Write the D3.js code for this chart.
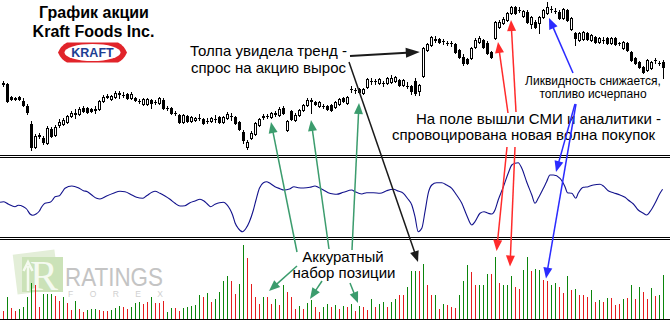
<!DOCTYPE html>
<html><head><meta charset="utf-8">
<script src="https://cdn.jsdelivr.net/npm/d3@7"></script>
<style>html,body{margin:0;padding:0;background:#fff;}svg{display:block;}</style>
</head><body>
<svg id="chart" width="670" height="320"></svg>
<script>
// Daily prices, USD
const open = [
31.6,31.6,30.3,30.2,30.3,29.9,29.4,27.6,25.3,26.4,
26.2,25.7,27.1,26.5,27.5,27.6,27.8,28.4,28.6,28.6,
29.2,29.2,29.1,29.0,29.1,29.9,30.3,30.1,30.3,30.6,
30.5,30.6,30.2,30.2,29.9,29.6,29.6,30.0,29.8,29.7,
30.0,29.2,29.2,28.7,28.5,27.8,28.4,27.9,28.0,28.2,
28.1,27.9,27.9,28.1,28.3,27.8,28.2,28.4,28.3,27.8,
26.8,25.3,26.2,26.6,27.5,28.3,28.4,28.3,28.6,28.5,
29.2,27.0,28.9,28.0,28.5,29.0,29.5,29.9,29.8,29.4,
29.4,29.4,29.5,29.3,29.6,30.2,29.7,31.1,31.0,31.1,
30.7,31.3,31.9,31.9,31.7,31.7,31.7,31.8,31.9,32.0,
31.5,31.4,31.4,31.9,30.9,32.4,35.0,35.5,36.0,36.1,
35.9,35.7,35.7,35.6,35.0,34.3,34.1,34.2,35.3,35.8,
36.0,35.7,34.8,36.2,37.3,37.7,38.0,38.7,39.3,39.0,
38.4,38.8,37.6,37.8,37.7,38.3,38.7,39.1,38.9,38.8,
38.2,39.0,37.1,36.7,36.0,36.1,36.7,36.0,36.3,35.8,
36.0,36.2,35.7,36.2,35.7,35.2,35.7,34.8,34.2,33.8,
33.3,33.0,33.2,34.0,33.7,33.8];
const high = [
31.9,31.7,30.4,30.3,30.4,30.2,29.6,27.9,26.6,26.7,
26.4,27.4,27.3,27.5,28.1,28.2,28.5,28.9,29.1,29.3,
29.4,29.3,29.2,29.4,30.0,30.5,30.6,30.5,30.9,30.9,
30.8,30.7,30.8,30.3,30.1,30.2,30.2,30.1,30.0,30.3,
30.2,29.4,29.3,28.9,28.6,28.6,28.5,28.4,28.3,28.6,
28.2,28.2,28.3,28.5,28.4,28.4,28.8,28.7,28.4,27.9,
27.0,26.0,26.9,27.8,28.2,28.6,28.6,28.8,28.9,29.3,
29.4,28.0,29.0,28.7,29.1,29.6,30.2,30.2,29.9,29.9,
29.6,29.5,29.6,29.9,30.2,30.3,30.4,31.4,31.2,31.2,
31.2,32.2,32.2,32.1,32.2,31.9,32.3,32.5,32.4,32.1,
32.1,31.8,31.5,32.2,31.6,35.3,35.7,36.4,36.4,36.2,
36.1,35.9,35.9,35.7,35.1,34.6,34.2,35.3,36.2,36.4,
36.1,35.9,34.9,37.9,38.0,38.3,38.8,39.4,39.4,39.3,
39.0,39.0,38.4,38.0,38.4,39.1,39.8,39.4,39.2,39.0,
39.2,39.1,38.3,36.8,36.8,36.9,36.8,36.6,36.4,36.3,
36.3,36.3,36.3,36.3,35.8,35.9,35.8,34.9,34.3,33.9,
33.4,34.1,33.9,34.2,33.9,34.0];
const low = [
31.4,29.8,30.0,30.0,30.0,29.4,28.6,25.0,25.2,26.2,
25.6,25.6,26.3,26.4,27.3,27.5,27.7,28.3,28.2,28.5,
28.8,28.7,28.8,28.7,29.0,29.8,30.2,30.0,30.2,30.2,
30.3,30.1,30.1,29.9,29.7,29.5,29.5,29.2,29.6,29.6,
29.1,29.0,28.6,28.5,27.7,27.7,27.8,27.8,27.9,28.0,
27.6,27.7,27.8,27.8,27.7,27.7,28.1,28.0,27.6,27.0,
25.7,25.1,26.1,26.5,27.4,28.1,28.2,28.2,28.4,28.4,
28.6,26.9,28.0,27.9,28.4,28.9,29.4,28.7,29.5,29.3,
29.2,29.0,28.9,29.2,29.5,29.8,29.6,30.8,30.7,30.7,
30.6,31.2,31.6,31.6,31.6,31.4,31.6,31.7,31.8,31.4,
31.4,31.2,30.6,30.5,30.5,32.3,34.9,35.4,35.8,35.7,
35.6,35.5,35.4,34.7,34.2,33.5,33.6,34.1,35.2,35.7,
35.2,34.6,34.2,36.1,37.2,37.6,37.9,38.6,38.6,38.8,
38.3,37.7,37.2,37.2,36.7,38.2,38.6,38.8,38.7,38.1,
38.1,37.9,37.0,35.5,35.9,36.0,36.0,35.9,35.7,35.7,
35.7,35.6,35.6,35.5,35.5,35.1,34.9,33.9,33.6,33.2,
32.7,32.9,33.1,33.7,33.5,32.2];
const close = [
31.7,29.9,30.1,30.15,30.1,29.5,28.8,25.3,26.4,26.5,
25.8,27.2,26.4,27.3,27.8,28.0,28.4,28.7,28.7,29.1,
28.9,28.8,28.9,29.1,29.9,30.3,30.4,30.4,30.7,30.7,
30.5,30.2,30.6,30.0,29.9,30.1,30.1,29.7,29.8,30.2,
29.2,29.2,28.7,28.7,27.8,28.5,27.9,28.3,28.2,28.2,
27.7,27.9,28.2,28.1,27.8,28.3,28.6,28.4,27.7,27.1,
26.0,25.8,26.7,27.7,28.1,28.4,28.4,28.7,28.7,29.1,
28.7,27.9,28.1,28.5,29.0,29.5,30.0,30.0,29.6,29.8,
29.4,29.1,29.0,29.8,30.1,29.9,30.3,31.1,31.0,30.8,
31.1,32.1,31.9,31.9,32.1,31.7,32.2,32.2,32.3,31.5,
32.0,31.4,30.9,30.7,31.5,35.2,35.6,36.3,36.1,35.8,
35.9,35.7,35.7,34.8,34.3,33.7,33.7,35.2,36.0,36.2,
35.3,34.7,34.3,37.8,37.8,38.1,38.7,39.3,38.7,39.0,
38.9,37.8,38.3,37.3,38.3,39.0,39.3,39.1,38.9,38.2,
39.1,38.0,38.2,36.2,36.7,36.8,36.1,36.5,35.8,36.2,
36.0,35.7,36.2,35.6,35.7,35.8,35.0,34.0,33.7,33.3,
32.8,34.0,33.8,34.0,33.7,33.3];

// Daily volume, millions of shares; volumeUp: 1 = rising volume bar
const volume = [
1.6,4.4,2.2,1.6,2.0,2.4,4.4,7.2,6.8,2.4,
5.0,5.0,5.0,4.6,3.6,4.4,3.2,1.8,3.6,2.0,
1.4,1.8,2.0,2.0,1.8,1.6,1.6,1.8,2.2,2.6,
2.4,2.0,2.4,3.2,3.4,3.0,3.4,4.4,3.2,3.2,
3.6,1.4,2.2,2.2,1.6,2.2,2.4,2.6,2.8,4.8,
4.4,5.2,3.4,4.0,5.4,7.6,8.6,7.6,5.0,7.0,
14.8,12.2,7.0,4.4,3.0,4.4,4.4,3.0,4.0,2.8,
6.8,5.4,4.4,2.0,2.6,2.0,3.2,3.8,2.4,1.4,
2.4,3.0,2.4,2.8,2.0,2.7,2.5,3.1,1.6,2.7,
2.5,1.8,4.0,2.5,3.1,3.5,2.5,3.5,4.0,4.8,
4.8,6.5,9.6,9.6,9.6,11.1,6.9,4.8,4.9,2.0,
3.1,2.9,2.5,2.3,4.9,7.6,10.9,9.5,6.8,6.9,
6.9,9.1,9.1,12.5,7.3,6.8,6.9,8.7,6.5,6.1,
9.8,12.5,9.6,10.1,9.8,7.8,7.6,6.8,7.3,6.5,
5.3,8.7,5.8,6.1,4.8,4.8,4.5,5.8,3.5,3.8,
3.5,4.3,4.3,2.8,3.1,4.1,4.3,6.8,4.0,6.5,
5.5,4.0,6.3,4.7,4.9,8.8];
const volumeUp = [
0,1,0,0,1,1,1,1,0,0,
1,1,1,0,0,1,0,0,1,0,
0,1,1,1,0,0,0,1,1,1,
0,0,1,1,1,0,0,1,0,0,
0,1,1,0,0,1,1,1,1,1,
0,1,0,1,1,1,1,0,0,1,
1,0,0,0,0,1,0,0,1,0,
1,0,0,0,1,0,1,1,0,0,
1,1,0,1,0,1,0,1,0,1,
0,0,1,0,1,1,0,1,1,0,
0,1,1,1,0,1,0,0,1,0,
1,0,0,0,1,1,1,0,0,1,
1,1,0,1,0,1,1,1,0,0,
1,1,0,1,1,0,0,1,1,0,
0,1,0,1,0,0,0,1,0,1,
0,1,0,0,0,1,0,1,0,1,
0,0,1,0,1,1];

// Oscillator: bar position and value (0..80)
const oscIndex = [
-0.75,0.1,1.3,3,3.8,5.1,5.9,6.75,7.4,8.25,
9.1,9.7,10.5,11.75,12.4,13,14.1,14.7,15.5,17.2,
18.8,20.1,21.1,22.2,23.4,24.25,25.9,27.6,29.25,30.5,
32.2,33.4,34.9,35.9,38,39.25,40.5,41.75,43,44.25,
45.5,46.75,48,49.25,50.25,51.1,51.9,53,54.1,55.1,
55.9,56.75,57.4,58,58.8,59.9,60.75,61.6,62.6,63.25,
64.1,65.1,65.9,66.75,68,69.25,70.25,71.6,72.75,73.8,
75.1,76.75,78,78.8,80.1,81.3,82.6,83.4,85.1,87.2,
88,89.7,90.9,92.6,94.25,95.9,97.6,98.8,100.1,101.1,
102.2,103,103.8,104.7,105.5,106.3,107.2,108.4,109.7,110.9,
112.2,113.4,114.7,115.9,117.2,118,119.25,120.25,121.3,122.2,
123,123.8,125.1,126.3,127.2,128,128.8,129.7,130.9,132.2,
133,133.8,135.1,135.9,136.75,137.6,139.25,140.5,141.1,142.2,
143.2,143.8,145.1,146.3,147.6,149.25,150.1,151.3,152.6,154.25,
155.5,156.3,157.6,158.8,160.1,160.9,161.75,163,164.25,164.9];
const oscValue = [
35.7,36.3,34,31.3,32.7,31.3,29,24,22.7,24,
27,31.3,34.7,35.7,38,41.3,42.3,45.3,49.7,52,
50.3,47.3,46.3,43,39.7,39,42,44.7,46.7,46.3,
43,40.7,39.7,42.3,46.7,44.7,42,38.7,34.7,32,
32.3,35.3,37,38.7,37,34,31.3,33.7,35.3,35.7,
33.7,28.7,23,15.3,9.7,6.3,9.7,16.3,28,38,
49.7,55.3,56.3,54.7,51.3,49.3,48,49,51.3,50.3,
50,50.7,52,50.7,48,45.3,44,43.7,45.7,48,
46.3,44,45.3,45.3,44.7,47.3,48.7,47,44.7,39.7,
33,21.3,6.3,9.7,26.3,44.7,53,55.3,55.3,53,
49.7,43,34.7,23,13,16.3,24.7,26.3,24.7,24,
28,38,51.3,64.7,73,74.7,75.3,69.7,56.3,43,
34.7,39.7,49.7,56.3,63,63,59.7,51.3,45.3,44.7,
39.7,44.7,50.7,51.3,53,53.7,52,47.3,45.3,43,
40.7,38,34,28,24.7,23,26.3,34.7,44.7,48.7];

const W = 670, H = 320;
const FONT = "'Liberation Sans', Arial, sans-serif";
const svg = d3.select('#chart');
svg.append('rect').attr('width', W).attr('height', H).attr('fill', '#fff');

const x = d3.scaleLinear().domain([0, open.length - 1]).range([3, 663]);
const yPrice = d3.scaleLinear().domain([24.5, 40]).range([155, 0]);
const yOsc = d3.scaleLinear().domain([0, 80]).range([238, 158]);
const yVol = d3.scaleLinear().domain([0, 16]).range([319, 239]);

const px = i => Math.round(x(i));
const py = v => Math.round(yPrice(v));
const bars = d3.range(open.length).map(i => ({i, o: open[i], h: high[i], l: low[i], c: close[i], v: volume[i], up: volumeUp[i]}));

// ---- watermark (drawn under the volume bars)
const wm = svg.append('g');
wm.append('rect').attr('x', 15).attr('y', 252).attr('width', 42).attr('height', 40)
  .attr('fill', '#e3eed8').attr('transform', 'rotate(-7 36 272)');
wm.append('rect').attr('x', 22).attr('y', 257).attr('width', 41).attr('height', 35).attr('fill', '#cbe2b8');
wm.append('text').attr('x', 44).attr('y', 290).attr('text-anchor', 'middle')
  .attr('font-family', "'Liberation Serif', serif").attr('font-size', 42).attr('fill', '#f5faf0').text('R');
wm.append('path').attr('d', 'M28,291 L28,266 M23.5,271 L28,262 L32.5,271').attr('stroke', '#f5faf0')
  .attr('stroke-width', 2.5).attr('fill', 'none');
wm.append('text').attr('x', 65).attr('y', 285.5).attr('font-family', FONT).attr('font-size', 25)
  .attr('textLength', 98).attr('lengthAdjust', 'spacingAndGlyphs').attr('fill', '#c4c4c4').text('RATINGS');
wm.append('text').attr('x', 68).attr('y', 297).attr('font-family', FONT).attr('font-size', 8.5)
  .attr('textLength', 95).attr('lengthAdjust', 'spacing').attr('fill', '#d0d0d0').text('FOREX');

// ---- candlesticks
const cg = svg.append('g').attr('shape-rendering', 'crispEdges');
cg.selectAll('line').data(bars).join('line')
  .attr('x1', d => px(d.i) + 0.5).attr('x2', d => px(d.i) + 0.5)
  .attr('y1', d => py(d.h)).attr('y2', d => py(d.l) + 1)
  .attr('stroke', '#000');
cg.selectAll('rect.bear').data(bars.filter(d => d.c <= d.o)).join('rect').attr('class', 'bear')
  .attr('x', d => px(d.i) - 1).attr('width', 3)
  .attr('y', d => py(d.o)).attr('height', d => Math.max(1, py(d.c) - py(d.o) + 1))
  .attr('fill', '#000');
cg.selectAll('rect.bull').data(bars.filter(d => d.c > d.o)).join('rect').attr('class', 'bull')
  .attr('x', d => px(d.i) - 0.5).attr('width', 2)
  .attr('y', d => py(d.c) + 0.5).attr('height', d => Math.max(1, py(d.o) - py(d.c)))
  .attr('fill', '#fff').attr('stroke', '#000');

// ---- volume
const vg = svg.append('g').attr('shape-rendering', 'crispEdges');
vg.selectAll('rect').data(bars).join('rect')
  .attr('x', d => px(d.i)).attr('width', 1)
  .attr('y', d => Math.round(yVol(d.v))).attr('height', d => yVol(0) - Math.round(yVol(d.v)))
  .attr('fill', d => d.up ? '#0b850b' : '#e41c1c');
vg.append('line').attr('x1', 0).attr('x2', W).attr('y1', 319.5).attr('y2', 319.5).attr('stroke', '#000');

// ---- oscillator
const oscPts = oscIndex.map((k, j) => [x(k), yOsc(oscValue[j])]);
svg.append('path').attr('d', d3.line().curve(d3.curveMonotoneX)(oscPts))
  .attr('fill', 'none').attr('stroke', '#12128c').attr('stroke-width', 1.1);

// ---- panel separators
const sg = svg.append('g').attr('shape-rendering', 'crispEdges');
[155.5, 157.5, 237.5, 239.5].forEach(yy =>
  sg.append('line').attr('x1', 0).attr('x2', W).attr('y1', yy).attr('y2', yy).attr('stroke', '#000'));

// ---- title and logo
const tg = svg.append('g').attr('font-family', FONT);
tg.append('text').attr('x', 94).attr('y', 18).attr('text-anchor', 'middle').attr('font-size', 16)
  .attr('font-weight', 'bold').text('График акции');
tg.append('text').attr('x', 93.5).attr('y', 37).attr('text-anchor', 'middle').attr('font-size', 16)
  .attr('font-weight', 'bold').text('Kraft Foods Inc.');
const logo = svg.append('g');
logo.append('path').attr('d', 'M58,52.5 Q61,45.5 67,42.5 L118,42.5 Q124,45.5 127,52.5 Q124,59.5 118,62.5 L67,62.5 Q61,59.5 58,52.5 Z')
  .attr('fill', '#e1242a');
logo.append('ellipse').attr('cx', 92.5).attr('cy', 52.5).attr('rx', 28).attr('ry', 8.6).attr('fill', '#fff');
logo.append('text').attr('x', 92.5).attr('y', 57).attr('text-anchor', 'middle').attr('font-family', FONT)
  .attr('font-size', 12.5).attr('font-weight', 'bold').attr('fill', '#1d3d92').text('KRAFT');

// ---- annotation texts
const notes = [
  {t: 'Толпа увидела тренд -', x: 268.5, y: 56, a: 'middle', s: 15},
  {t: 'спрос на акцию вырос', x: 268.5, y: 73, a: 'middle', s: 15},
  {t: 'На поле вышли СМИ и аналитики -', x: 416, y: 124, a: 'start', s: 15},
  {t: 'спровоцирована новая волна покупок', x: 392, y: 140, a: 'start', s: 15},
  {t: 'Ликвидность снижается,', x: 593, y: 85, a: 'middle', s: 12},
  {t: 'топливо исчерпано', x: 593, y: 98, a: 'middle', s: 12},
  {t: 'Аккуратный', x: 343, y: 262, a: 'middle', s: 15},
  {t: 'набор позиции', x: 344, y: 278, a: 'middle', s: 15}
];
tg.selectAll('text.note').data(notes).join('text').attr('class', 'note')
  .attr('x', d => d.x).attr('y', d => d.y).attr('text-anchor', d => d.a)
  .attr('font-size', d => d.s).attr('fill', '#000').text(d => d.t);

// ---- arrows: start point near a caption, tip at a bar in one of the panels
const GREEN = '#3b9c6d', RED = '#ff2b2b', BLUE = '#2b2bff', BLACK = '#1a1a1a';
const arrows = [
  {c: GREEN, from: [297, 252], panel: 'price', at: 67, v: 27.8},
  {c: GREEN, from: [329, 249], panel: 'price', at: 77, v: 28.0},
  {c: GREEN, from: [352, 250], panel: 'price', at: 89, v: 29.7},
  {c: GREEN, from: [297, 266], panel: 'vol', at: 66.5, v: 5.6},
  {c: GREEN, from: [322, 281], panel: 'vol', at: 76.75, v: 4.0},
  {c: GREEN, from: [350, 283], panel: 'vol', at: 88.75, v: 3.2},
  {c: BLACK, from: [350, 56], panel: 'price', at: 104.2, v: 34.8, w: 2, hl: 14, hw: 5},
  {c: BLACK, from: [349, 62], panel: 'vol', at: 103.75, v: 11.4},
  {c: RED, from: [508, 113], panel: 'price', at: 123.75, v: 35.8},
  {c: RED, from: [516, 112], panel: 'price', at: 127, v: 38.0},
  {c: RED, from: [507, 147], panel: 'vol', at: 123.4, v: 13.6},
  {c: RED, from: [515, 147], panel: 'vol', at: 126.75, v: 10.5},
  {c: BLUE, from: [573, 73], panel: 'price', at: 136.5, v: 38.2},
  {c: BLUE, from: [575, 104], panel: 'osc', at: 138.25, v: 66},
  {c: BLUE, from: [576, 104], panel: 'vol', at: 135.75, v: 8.1}
];
const panelY = {price: yPrice, vol: yVol, osc: yOsc};
const ag = svg.append('g');
arrows.forEach(a => {
  const tip = [x(a.at), panelY[a.panel](a.v)];
  const dx = tip[0] - a.from[0], dy = tip[1] - a.from[1], len = Math.hypot(dx, dy);
  const ux = dx / len, uy = dy / len, hl = a.hl || 11, hw = a.hw || 4.5;
  const bx = tip[0] - ux * hl, by = tip[1] - uy * hl;
  ag.append('line').attr('x1', a.from[0]).attr('y1', a.from[1]).attr('x2', bx + ux).attr('y2', by + uy)
    .attr('stroke', a.c).attr('stroke-width', a.w || 1.5);
  ag.append('path').attr('d', `M${tip[0]},${tip[1]}L${bx - uy * hw},${by + ux * hw}L${bx + uy * hw},${by - ux * hw}Z`)
    .attr('fill', a.c);
});
</script>
</body></html>
